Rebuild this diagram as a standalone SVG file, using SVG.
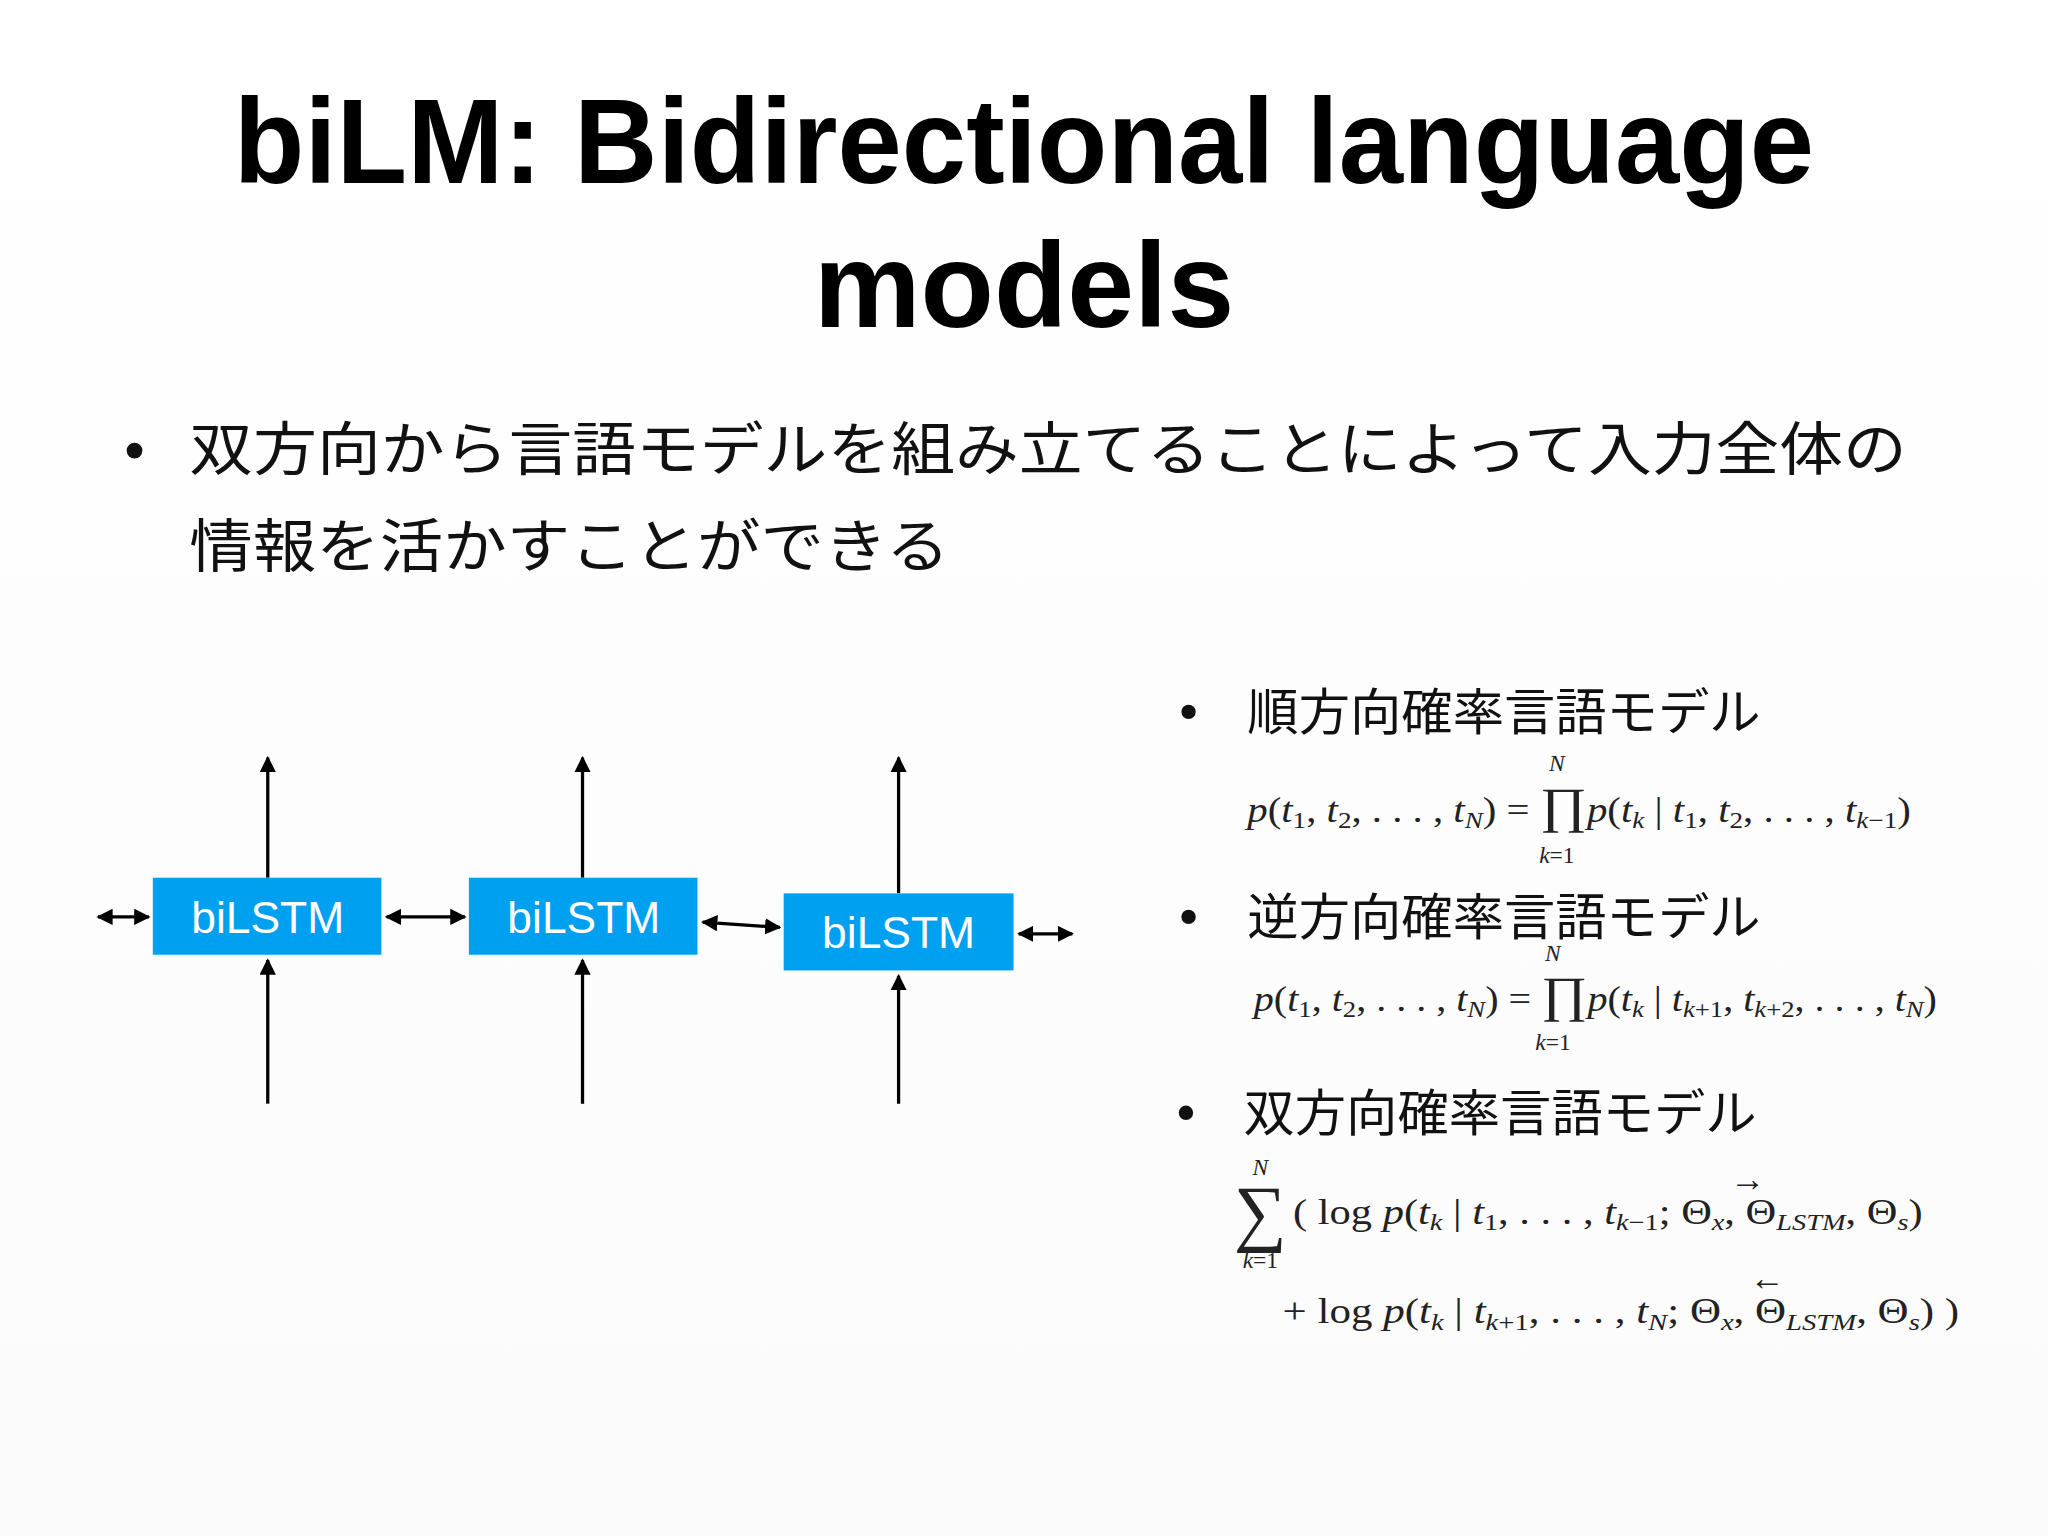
<svg xmlns="http://www.w3.org/2000/svg" width="2048" height="1536" viewBox="0 0 2048 1536">
<style>
.title{font-family:"Liberation Sans",Arial,sans-serif;font-size:92px;font-weight:bold;fill:#000;text-anchor:middle}
.jp{font-family:"Noto Sans CJK JP","Noto Sans CJK SC",sans-serif;fill:#111}
.lbl{font-family:"Liberation Sans",Arial,sans-serif;font-size:34px;fill:#fff;text-anchor:middle}
.box{fill:#00A0F0}
.m{font-family:"Liberation Serif","Times New Roman",serif;font-size:27px;fill:#222}
.i{font-style:italic}
.s{font-size:18px}
.ln{stroke:#000;stroke-width:2.5;fill:none}
</style>
<defs>
<marker id="ah" viewBox="0 0 10 10" refX="9" refY="5" markerWidth="5" markerHeight="5" orient="auto-start-reverse"><path d="M0,0 L10,5 L0,10 z" fill="#000"/></marker>
<linearGradient id="bg" x1="0" y1="0" x2="0" y2="1"><stop offset="0" stop-color="#fff"/><stop offset="1" stop-color="#fbfbfb"/></linearGradient>
</defs>
<rect width="2048" height="1536" fill="url(#bg)"/>
<g transform="scale(1.3061)">
<g id="title">
<text class="title" x="784" y="140" textLength="1210" lengthAdjust="spacingAndGlyphs">biLM: Bidirectional language</text>
<text class="title" x="784" y="250">models</text>
</g>
<g id="bullet1">
<circle cx="103" cy="345" r="6" fill="#111"/>
<text class="jp" x="145" y="360" font-size="44" textLength="1315" lengthAdjust="spacingAndGlyphs">双方向から言語モデルを組み立てることによって入力全体の</text>
<text class="jp" x="145" y="434" font-size="44" textLength="582" lengthAdjust="spacingAndGlyphs">情報を活かすことができる</text>
</g>
<g id="connectors">
<line class="ln" x1="205" y1="672" x2="205" y2="580" marker-end="url(#ah)"/>
<line class="ln" x1="205" y1="845" x2="205" y2="735" marker-end="url(#ah)"/>
<line class="ln" x1="446" y1="672" x2="446" y2="580" marker-end="url(#ah)"/>
<line class="ln" x1="446" y1="845" x2="446" y2="735" marker-end="url(#ah)"/>
<line class="ln" x1="688" y1="684" x2="688" y2="580" marker-end="url(#ah)"/>
<line class="ln" x1="688" y1="845" x2="688" y2="747" marker-end="url(#ah)"/>
<line class="ln" x1="75" y1="702" x2="114" y2="702" marker-start="url(#ah)" marker-end="url(#ah)"/>
<line class="ln" x1="296" y1="702" x2="356" y2="702" marker-start="url(#ah)" marker-end="url(#ah)"/>
<line class="ln" x1="538" y1="706" x2="597" y2="710" marker-start="url(#ah)" marker-end="url(#ah)"/>
<line class="ln" x1="780" y1="715" x2="821" y2="715" marker-start="url(#ah)" marker-end="url(#ah)"/>
</g>
<g id="node1"><rect class="box" x="117" y="672" width="175" height="59"/><text class="lbl" x="205" y="714">biLSTM</text></g>
<g id="node2"><rect class="box" x="359" y="672" width="175" height="59"/><text class="lbl" x="447" y="714">biLSTM</text></g>
<g id="node3"><rect class="box" x="600" y="684" width="176" height="59"/><text class="lbl" x="688" y="726">biLSTM</text></g>
<g id="forward">
<circle cx="910" cy="545" r="5.5" fill="#111"/>
<text class="jp" x="955" y="559" font-size="38" textLength="393" lengthAdjust="spacingAndGlyphs">順方向確率言語モデル</text>
<text class="m i s" x="1192" y="590" text-anchor="middle">N</text>
<text class="m" x="955" y="629" textLength="508" lengthAdjust="spacingAndGlyphs"><tspan class="i">p</tspan>(<tspan class="i">t</tspan><tspan class="s" dy="5">1</tspan><tspan dy="-5">, </tspan><tspan class="i">t</tspan><tspan class="s" dy="5">2</tspan><tspan dy="-5">, . . . , </tspan><tspan class="i">t</tspan><tspan class="s i" dy="5">N</tspan><tspan dy="-5">) = </tspan><tspan font-size="38">∏</tspan><tspan class="i">p</tspan>(<tspan class="i">t</tspan><tspan class="s i" dy="5">k</tspan><tspan dy="-5"> | </tspan><tspan class="i">t</tspan><tspan class="s" dy="5">1</tspan><tspan dy="-5">, </tspan><tspan class="i">t</tspan><tspan class="s" dy="5">2</tspan><tspan dy="-5">, . . . , </tspan><tspan class="i">t</tspan><tspan class="s" dy="5"><tspan class="i">k</tspan>−1</tspan><tspan dy="-5">)</tspan></text>
<text class="m s" x="1192" y="661" text-anchor="middle"><tspan class="i">k</tspan>=1</text>
</g>
<g id="backward">
<circle cx="910" cy="702" r="5.5" fill="#111"/>
<text class="jp" x="955" y="716" font-size="38" textLength="393" lengthAdjust="spacingAndGlyphs">逆方向確率言語モデル</text>
<text class="m i s" x="1189" y="736" text-anchor="middle">N</text>
<text class="m" x="960" y="774" textLength="523" lengthAdjust="spacingAndGlyphs"><tspan class="i">p</tspan>(<tspan class="i">t</tspan><tspan class="s" dy="5">1</tspan><tspan dy="-5">, </tspan><tspan class="i">t</tspan><tspan class="s" dy="5">2</tspan><tspan dy="-5">, . . . , </tspan><tspan class="i">t</tspan><tspan class="s i" dy="5">N</tspan><tspan dy="-5">) = </tspan><tspan font-size="38">∏</tspan><tspan class="i">p</tspan>(<tspan class="i">t</tspan><tspan class="s i" dy="5">k</tspan><tspan dy="-5"> | </tspan><tspan class="i">t</tspan><tspan class="s" dy="5"><tspan class="i">k</tspan>+1</tspan><tspan dy="-5">, </tspan><tspan class="i">t</tspan><tspan class="s" dy="5"><tspan class="i">k</tspan>+2</tspan><tspan dy="-5">, . . . , </tspan><tspan class="i">t</tspan><tspan class="s i" dy="5">N</tspan><tspan dy="-5">)</tspan></text>
<text class="m s" x="1189" y="804" text-anchor="middle"><tspan class="i">k</tspan>=1</text>
</g>
<g id="bidirectional">
<circle cx="908" cy="852" r="5.5" fill="#111"/>
<text class="jp" x="952" y="866" font-size="38" textLength="393" lengthAdjust="spacingAndGlyphs">双方向確率言語モデル</text>
<text class="m i s" x="965" y="900" text-anchor="middle">N</text>
<text class="m" font-size="27" text-anchor="middle" transform="translate(965,947) scale(2.1)">∑</text>
<text class="m s" x="965" y="971" text-anchor="middle"><tspan class="i">k</tspan>=1</text>
<text class="m" x="990" y="937" textLength="482" lengthAdjust="spacingAndGlyphs">( log <tspan class="i">p</tspan>(<tspan class="i">t</tspan><tspan class="s i" dy="5">k</tspan><tspan dy="-5"> | </tspan><tspan class="i">t</tspan><tspan class="s" dy="5">1</tspan><tspan dy="-5">, . . . , </tspan><tspan class="i">t</tspan><tspan class="s" dy="5"><tspan class="i">k</tspan>−1</tspan><tspan dy="-5">; Θ</tspan><tspan class="s i" dy="5">x</tspan><tspan dy="-5">, Θ</tspan><tspan class="s i" dy="5">LSTM</tspan><tspan dy="-5">, Θ</tspan><tspan class="s i" dy="5">s</tspan><tspan dy="-5">)</tspan></text>
<text class="m" x="1338" y="912" font-size="22" text-anchor="middle">→</text>
<text class="m" x="982" y="1013" textLength="518" lengthAdjust="spacingAndGlyphs">+ log <tspan class="i">p</tspan>(<tspan class="i">t</tspan><tspan class="s i" dy="5">k</tspan><tspan dy="-5"> | </tspan><tspan class="i">t</tspan><tspan class="s" dy="5"><tspan class="i">k</tspan>+1</tspan><tspan dy="-5">, . . . , </tspan><tspan class="i">t</tspan><tspan class="s i" dy="5">N</tspan><tspan dy="-5">; Θ</tspan><tspan class="s i" dy="5">x</tspan><tspan dy="-5">, Θ</tspan><tspan class="s i" dy="5">LSTM</tspan><tspan dy="-5">, Θ</tspan><tspan class="s i" dy="5">s</tspan><tspan dy="-5">) )</tspan></text>
<text class="m" x="1353" y="988" font-size="22" text-anchor="middle">←</text>
</g>
</g>
</svg>
